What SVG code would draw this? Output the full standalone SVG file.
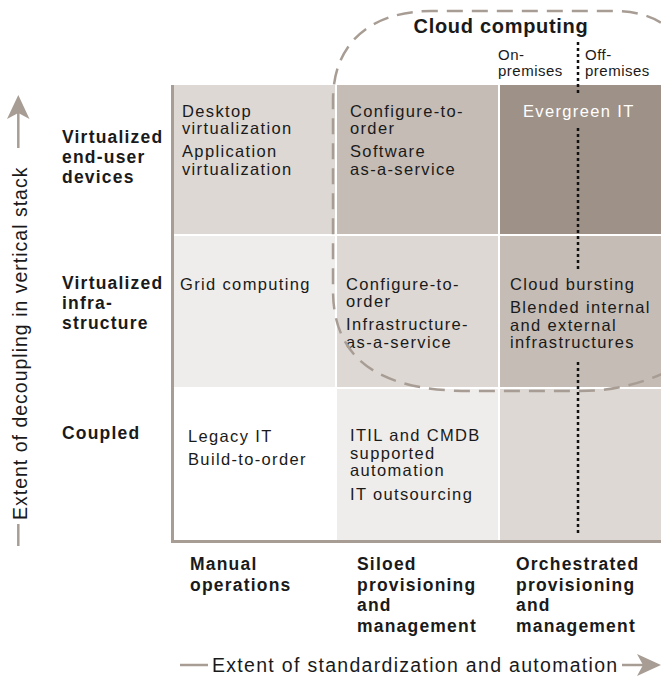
<svg xmlns="http://www.w3.org/2000/svg" width="661" height="681" viewBox="0 0 661 681">
<style>
text { font-family: "Liberation Sans", Arial, Helvetica, sans-serif; fill: #1a1a1a; }
.t { font-size: 16.5px; letter-spacing: 1.35px; }
.w { fill: #ffffff; }
.b { font-size: 17.5px; font-weight: bold; letter-spacing: 1.2px; }
.ax { font-size: 19.5px; letter-spacing: 1.3px; }
.axv { font-size: 19.5px; letter-spacing: 1px; }
.s { font-size: 15px; letter-spacing: 0.5px; }
.h { font-size: 20px; font-weight: bold; letter-spacing: 0.7px; }
.axis { stroke: #a89d94; stroke-width: 3; fill: none; }
.arr { stroke: #a89d94; stroke-width: 2.5; }
.head { fill: #a89d94; }
.dot { stroke: #111111; stroke-width: 2.5; stroke-dasharray: 3 3; fill: none; }
.cloud { stroke: #a89d94; stroke-width: 2.5; stroke-dasharray: 16 9; fill: none; }
</style>
<rect width="661" height="681" fill="#ffffff"/>

<g id="cells">
  <rect id="r1c1" x="174" y="85" width="161" height="149" fill="#ddd8d4"/>
  <rect id="r1c2" x="337" y="85" width="161" height="149" fill="#c5bcb5"/>
  <rect id="r1c3" x="500" y="85" width="161" height="149" fill="#9e9187"/>
  <rect id="r2c1" x="174" y="236" width="161" height="151" fill="#efedeb"/>
  <rect id="r2c2" x="337" y="236" width="161" height="151" fill="#ddd8d4"/>
  <rect id="r2c3" x="500" y="236" width="161" height="151" fill="#c5bcb5"/>
  <rect id="r3c1" x="174" y="389" width="161" height="152" fill="#ffffff"/>
  <rect id="r3c2" x="337" y="389" width="161" height="152" fill="#efedeb"/>
  <rect id="r3c3" x="500" y="389" width="161" height="152" fill="#ddd8d4"/>
</g>

<g id="cell-texts">
  <g id="t-r1c1">
    <text class="t" x="182" y="117">Desktop</text>
    <text class="t" x="182" y="133.5">virtualization</text>
    <text class="t" x="182" y="157">Application</text>
    <text class="t" x="182" y="174.5">virtualization</text>
  </g>
  <g id="t-r1c2">
    <text class="t" x="350" y="117">Configure-to-</text>
    <text class="t" x="350" y="133.5">order</text>
    <text class="t" x="350" y="157">Software</text>
    <text class="t" x="350" y="174.5">as-a-service</text>
  </g>
  <g id="t-r1c3">
    <text class="t w" x="523" y="117">Evergreen IT</text>
  </g>
  <g id="t-r2c1">
    <text class="t" x="180" y="290">Grid computing</text>
  </g>
  <g id="t-r2c2">
    <text class="t" x="346" y="290">Configure-to-</text>
    <text class="t" x="346" y="306.5">order</text>
    <text class="t" x="346" y="330">Infrastructure-</text>
    <text class="t" x="346" y="347.5">as-a-service</text>
  </g>
  <g id="t-r2c3">
    <text class="t" x="510" y="290">Cloud bursting</text>
    <text class="t" x="510" y="313">Blended internal</text>
    <text class="t" x="510" y="330.5">and external</text>
    <text class="t" x="510" y="348">infrastructures</text>
  </g>
  <g id="t-r3c1">
    <text class="t" x="188" y="442">Legacy IT</text>
    <text class="t" x="188" y="465">Build-to-order</text>
  </g>
  <g id="t-r3c2">
    <text class="t" x="350" y="441">ITIL and CMDB</text>
    <text class="t" x="350" y="458.5">supported</text>
    <text class="t" x="350" y="476">automation</text>
    <text class="t" x="350" y="500">IT outsourcing</text>
  </g>
</g>

<g id="connectors">
  <path id="cloud-boundary" class="cloud" d="M 690 62 C 678 26 652 11 612 11 L 432 11 C 372 11 333 42 333 100 L 333 290 C 333 360 380 391 470 391 L 580 391 C 620 391 652 381 690 360"/>
  <g id="on-off-divider">
    <line class="dot" x1="578" y1="42" x2="578" y2="94"/>
    <line class="dot" x1="578" y1="128" x2="578" y2="269"/>
    <line class="dot" x1="578" y1="362" x2="578" y2="534"/>
  </g>
  <g id="axes">
    <path class="axis" d="M 172.5 85 L 172.5 541.5 L 661 541.5"/>
  </g>
  <g id="y-arrow">
    <line class="arr" x1="18.3" y1="148" x2="18.3" y2="112"/>
    <path class="head" d="M 18.3 95 L 29.5 119 L 18.3 113 L 7 119 Z"/>
    <line class="arr" x1="18.3" y1="524" x2="18.3" y2="546"/>
  </g>
  <g id="x-arrow">
    <line class="arr" x1="180" y1="665" x2="208" y2="665"/>
    <line class="arr" x1="622" y1="665" x2="645" y2="665"/>
    <path class="head" d="M 661 665 L 637 654 L 643 665 L 637 676 Z"/>
  </g>
</g>

<g id="cloud-label">
  <text class="h" x="501" y="33" text-anchor="middle">Cloud computing</text>
  <text class="s" x="498" y="60">On-</text>
  <text class="s" x="498" y="76">premises</text>
  <text class="s" x="585" y="60">Off-</text>
  <text class="s" x="585" y="76">premises</text>
</g>

<g id="row-labels">
  <g id="row1">
    <text class="b" x="62" y="143">Virtualized</text>
    <text class="b" x="62" y="163">end-user</text>
    <text class="b" x="62" y="183">devices</text>
  </g>
  <g id="row2">
    <text class="b" x="62" y="289">Virtualized</text>
    <text class="b" x="62" y="309">infra-</text>
    <text class="b" x="62" y="329">structure</text>
  </g>
  <g id="row3">
    <text class="b" x="62" y="439">Coupled</text>
  </g>
</g>

<g id="col-labels">
  <g id="col1">
    <text class="b" x="190" y="570">Manual</text>
    <text class="b" x="190" y="590.5">operations</text>
  </g>
  <g id="col2">
    <text class="b" x="357" y="570">Siloed</text>
    <text class="b" x="357" y="590.5">provisioning</text>
    <text class="b" x="357" y="611">and</text>
    <text class="b" x="357" y="631.5">management</text>
  </g>
  <g id="col3">
    <text class="b" x="516" y="570">Orchestrated</text>
    <text class="b" x="516" y="590.5">provisioning</text>
    <text class="b" x="516" y="611">and</text>
    <text class="b" x="516" y="631.5">management</text>
  </g>
</g>

<g id="axis-titles">
  <text class="ax" x="212" y="672">Extent of standardization and automation</text>
  <text class="axv" transform="translate(27,520) rotate(-90)">Extent of decoupling in vertical stack</text>
</g>
</svg>
